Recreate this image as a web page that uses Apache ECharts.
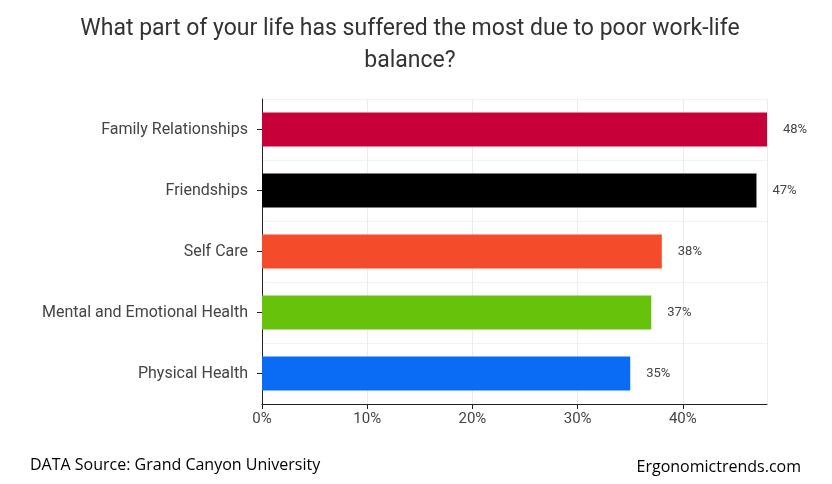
<!DOCTYPE html>
<html>
<head><meta charset="utf-8"></head>
<body style="margin:0;background:#fff">
<div id="container" style="width:832px;height:484px"></div>
<script src="https://cdn.jsdelivr.net/npm/echarts@6/dist/echarts.min.js"></script>
<script>
var categories = ['Physical Health', 'Mental and Emotional Health', 'Self Care', 'Friendships', 'Family Relationships'];
var values = [35, 37, 38, 47, 48];
var colors = ['#0a6cf5', '#66c20a', '#f44b2a', '#000000', '#c8003a'];

var chart = echarts.init(document.getElementById('container'));
chart.setOption({
  animation: false,
  title: {
    text: 'What part of your life has suffered the most due to poor work-life\nbalance?',
    left: 405, top: 8, textAlign: 'center',
    textStyle: { fontFamily: 'Roboto', fontWeight: 'normal', fontSize: 23, color: '#333', lineHeight: 32 }
  },
  graphic: [
    { type: 'text', left: 30, top: 457, style: { text: 'DATA Source: Grand Canyon University', font: '16px "Open Sans"', fill: '#000' } },
    { type: 'text', right: 31, top: 459, style: { text: 'Ergonomictrends.com', font: '16px "Open Sans"', fill: '#000' } }
  ],
  grid: { left: 262, right: 65, top: 99, bottom: 80 },
  xAxis: {
    type: 'value', min: 0, max: 48, interval: 10,
    axisLine: { show: true, lineStyle: { color: '#222' } },
    axisTick: { show: true, length: 5, lineStyle: { color: '#222' } },
    axisLabel: { formatter: '{value}%', fontFamily: 'Roboto', fontSize: 15, color: '#444', margin: 8,
      showMaxLabel: false },
    splitLine: { lineStyle: { color: '#ececec' } }
  },
  yAxis: {
    type: 'category', data: categories,
    axisLine: { lineStyle: { color: '#222' } },
    axisTick: { show: true, length: 5, alignWithLabel: true, lineStyle: { color: '#222' } },
    axisLabel: { fontFamily: 'Roboto', fontSize: 16, color: '#444', margin: 14 },
    splitLine: { show: true, lineStyle: { color: '#f2f2f2' } }
  },
  series: [{
    type: 'bar', barWidth: 34,
    data: values.map(function (v, i) { return { value: v, itemStyle: { color: colors[i] } }; }),
    label: { show: true, position: 'right', distance: 16, formatter: '{c}%', fontFamily: 'Roboto', fontSize: 13, color: '#444' }
  }]
});
</script>
</body>
</html>
